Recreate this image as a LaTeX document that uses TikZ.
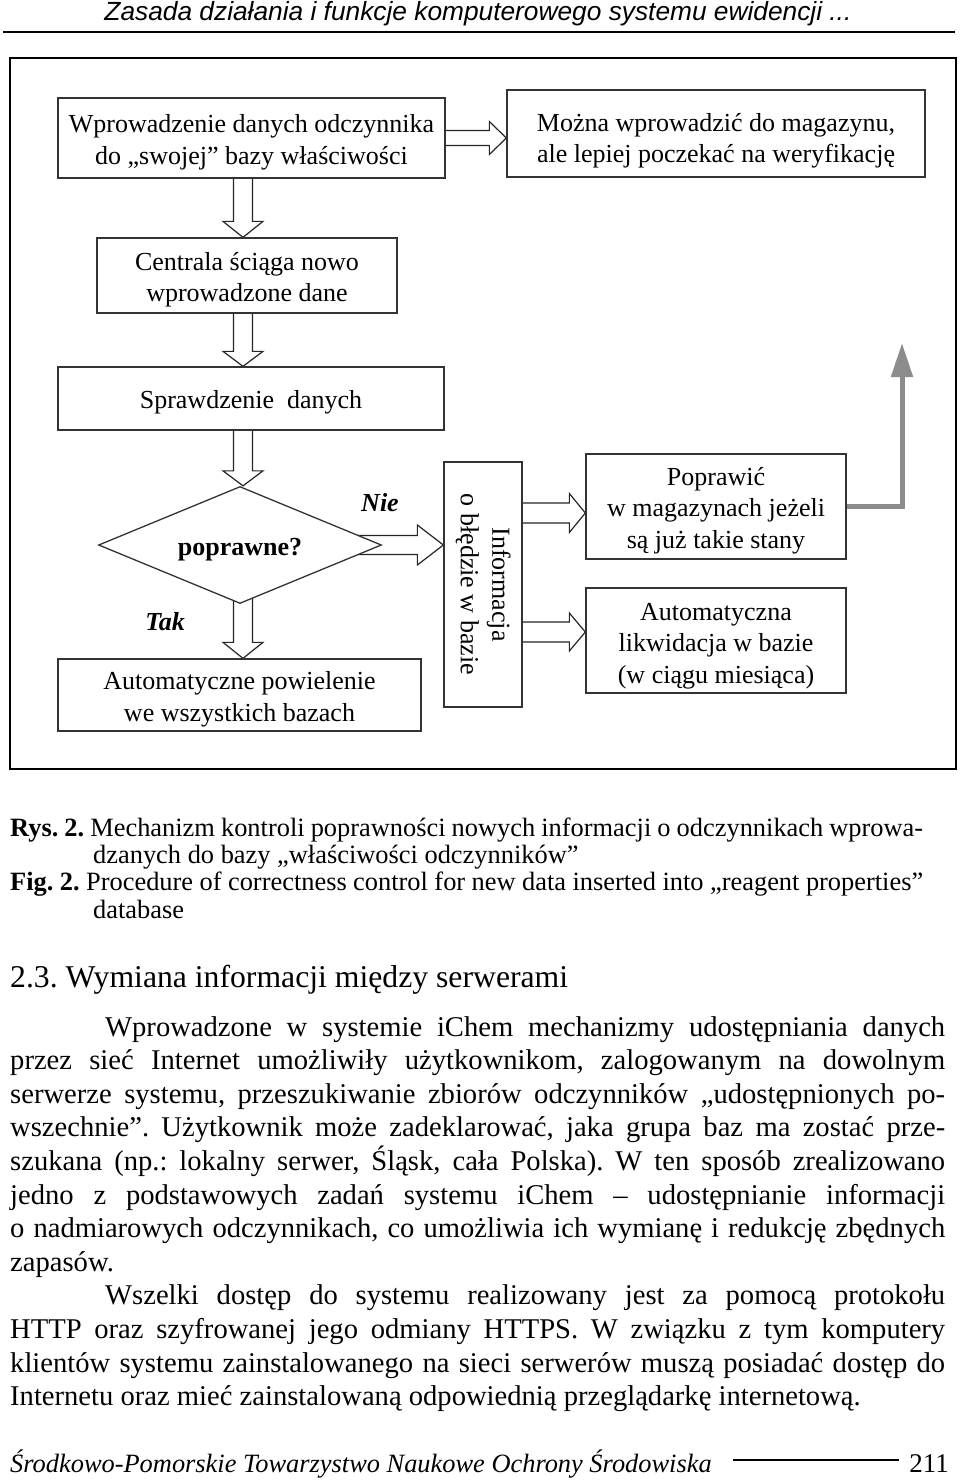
\documentclass[tikz,border=0pt]{standalone}
\usepackage{fontspec}
\setmainfont{Liberation Serif}
\newfontfamily\hdrfont{Liberation Sans}
\usepackage{graphicx}
\usetikzlibrary{shapes.geometric,arrows.meta,calc,backgrounds}
\frenchspacing
\newcommand\bodyfont{\fontsize{28.6}{33.6}\selectfont}
\newcommand\boxfont{\fontsize{26}{31.5}\selectfont}
\newcommand\capfont{\fontsize{26.4}{27.3}\selectfont}
% box text block, optionally lowered
\newcommand\bt[2][4pt]{\raisebox{-#1}[\height][\depth]{\begin{tabular}{@{}c@{}}#2\end{tabular}}}
% hollow arrow pointing down: #1 start, #2 end, #3 shaft half, #4 head half, #5 head length
\newcommand\hollowdown[5]{\draw[hollow] let \p1=#1, \p2=#2 in
  (\x1-#3,\y1) -- (\x1-#3,\y2+#5) -- (\x1-#4,\y2+#5) -- (\x1,\y2) --
  (\x1+#4,\y2+#5) -- (\x1+#3,\y2+#5) -- (\x1+#3,\y1);}
\newcommand\hollowright[5]{\draw[hollow] let \p1=#1, \p2=#2 in
  (\x1,\y1+#3) -- (\x2-#5,\y1+#3) -- (\x2-#5,\y1+#4) -- (\x2,\y1) --
  (\x2-#5,\y1-#4) -- (\x2-#5,\y1-#3) -- (\x1,\y1-#3);}
\begin{document}
\begin{tikzpicture}[x=1pt,y=-1pt,
  box/.style={draw=black!80, line width=1.3pt, fill=white, inner sep=0pt, align=center, font=\boxfont},
  hollow/.style={draw=black!85, line width=1.2pt, fill=white, line join=miter},
  bodyline/.style={anchor=base west, inner sep=0pt, font=\bodyfont},
  capline/.style={anchor=base west, inner sep=0pt, font=\capfont},
  lbl/.style={inner sep=0pt, font=\boxfont\bfseries\itshape}]
\useasboundingbox (0,0) rectangle (960,1481);

% header
\node[anchor=base, inner sep=0pt, font=\hdrfont\itshape\fontsize{26.3}{30}\selectfont] (hdr) at (478,20.5)
  {Zasada działania i funkcje komputerowego systemu ewidencji ...};
\draw[line width=2pt] (3,32) -- (955,32);

% frame
\draw[line width=2.5pt] (10,58) rectangle (956,769);

% nodes
\coordinate (axis) at (243,0);
\node[box, minimum width=387pt, minimum height=80pt] (b1) at (251.5,138)
  {\bt{Wprowadzenie danych odczynnika\\do „swojej” bazy właściwości}};
\node[box, minimum width=418pt, minimum height=87pt] (b2) at (716,133.5)
  {\bt[7pt]{Można wprowadzić do magazynu,\\ale lepiej poczekać na weryfikację}};
\node[box, minimum width=300pt, minimum height=75pt] (b3) at (247,275.5)
  {\bt{Centrala ściąga nowo\\wprowadzone dane}};
\node[box, minimum width=386pt, minimum height=63pt] (b4) at (251,398.5)
  {\bt{Sprawdzenie\ \ danych}};
\node[diamond, draw=black!80, line width=1.3pt, fill=white, inner sep=0pt, aspect=2.4,
  minimum width=283pt, minimum height=117pt, font=\boxfont\bfseries] (dia) at (240,545) {\bt{poprawne?}};
\node[box, minimum width=363pt, minimum height=72pt] (b5) at (239.5,695)
  {\bt{Automatyczne powielenie\\we wszystkich bazach}};
\node[box, minimum width=78pt, minimum height=245pt] (b6) at (483,584.5)
  {\rotatebox{-90}{\begin{tabular}{@{}c@{}}Informacja\\o błędzie w bazie\end{tabular}}};
\node[box, minimum width=260pt, minimum height=105pt] (b7) at (716,506.5)
  {\bt{Poprawić\\w magazynach jeżeli\\są już takie stany}};
\node[box, minimum width=260pt, minimum height=105pt] (b8) at (716,640.5)
  {\bt[5pt]{Automatyczna\\likwidacja w bazie\\(w ciągu miesiąca)}};
\node[lbl] (nie) at (380,503) {Nie};
\node[lbl] (tak) at (165,622) {Tak};

% connectors
\begin{pgfonlayer}{background}
\hollowright{(b1.east)}{(b2.west |- b1.east)}{7.5pt}{16.5pt}{17pt}
\hollowdown{(b1.south -| axis)}{(b3.north -| axis)}{9.5pt}{20pt}{16pt}
\hollowdown{(b3.south -| axis)}{(b4.north -| axis)}{9.5pt}{20pt}{15pt}
\hollowdown{(b4.south -| axis)}{(dia.north -| axis)}{9.5pt}{20pt}{15pt}
\hollowdown{(dia.center -| axis)}{(b5.north -| axis)}{9.5pt}{20pt}{16pt}
\hollowright{(dia.center)}{(b6.west |- dia.center)}{9.5pt}{20pt}{26pt}
\hollowright{(b6.east |- 0,513)}{(b7.west |- 0,513)}{10pt}{19.5pt}{16pt}
\hollowright{(b6.east |- 0,632)}{(b8.west |- 0,632)}{10pt}{19pt}{16pt}
\end{pgfonlayer}
\coordinate (gtip) at (902,343);
\draw[line width=5pt, draw=black!45, -{Triangle[width=21pt,length=34pt]}] (b7.east) -| (gtip);

% caption
\node[capline] (c1) at (10,836) {\makebox[913pt][s]{\textbf{Rys. 2.} Mechanizm kontroli poprawności nowych informacji o odczynnikach wprowa-}};
\node[capline] (c2) at (93,863) {dzanych do bazy „właściwości odczynników”};
\node[capline] (c3) at (10,890) {\makebox[913pt][s]{\textbf{Fig. 2.} Procedure of correctness control for new data inserted into „reagent properties”}};
\node[capline] (c4) at (93,918) {database};

% heading
\node[anchor=base west, inner sep=0pt, font=\fontsize{31.7}{36}\selectfont] (head) at (10,987)
  {2.3. Wymiana informacji między serwerami};

% body
\node[bodyline] (l1) at (105,1036) {\makebox[840pt][s]{Wprowadzone w systemie iChem mechanizmy udostępniania danych}};
\node[bodyline] (l2) at (10,1069.6) {\makebox[935pt][s]{przez sieć Internet umożliwiły użytkownikom, zalogowanym na dowolnym}};
\node[bodyline] (l3) at (10,1103.2) {\makebox[935pt][s]{serwerze systemu, przeszukiwanie zbiorów odczynników „udostępnionych po-}};
\node[bodyline] (l4) at (10,1136.8) {\makebox[935pt][s]{wszechnie”. Użytkownik może zadeklarować, jaka grupa baz ma zostać prze-}};
\node[bodyline] (l5) at (10,1170.4) {\makebox[935pt][s]{szukana (np.: lokalny serwer, Śląsk, cała Polska). W ten sposób zrealizowano}};
\node[bodyline] (l6) at (10,1204) {\makebox[935pt][s]{jedno z podstawowych zadań systemu iChem – udostępnianie informacji}};
\node[bodyline] (l7) at (10,1237.6) {\makebox[935pt][s]{o nadmiarowych odczynnikach, co umożliwia ich wymianę i redukcję zbędnych}};
\node[bodyline] (l8) at (10,1271.2) {zapasów.};
\node[bodyline] (l9) at (105,1304.8) {\makebox[840pt][s]{Wszelki dostęp do systemu realizowany jest za pomocą protokołu}};
\node[bodyline] (l10) at (10,1338.4) {\makebox[935pt][s]{HTTP oraz szyfrowanej jego odmiany HTTPS. W związku z tym komputery}};
\node[bodyline] (l11) at (10,1372) {\makebox[935pt][s]{klientów systemu zainstalowanego na sieci serwerów muszą posiadać dostęp do}};
\node[bodyline] (l12) at (10,1405.6) {Internetu oraz mieć zainstalowaną odpowiednią przeglądarkę internetową.};

% footer
\node[anchor=base west, inner sep=0pt, font=\itshape\fontsize{26.4}{30}\selectfont] (foot) at (10,1472)
  {Środkowo-Pomorskie Towarzystwo Naukowe Ochrony Środowiska};
\node[anchor=base east, inner sep=0pt, font=\fontsize{27}{30}\selectfont] (pg) at (949,1472) {211};
\coordinate (fl1) at (733,1460);
\coordinate (fl2) at (899,1460);
\draw[line width=1.2pt] (fl1) -- (fl2);
\end{tikzpicture}
\end{document}
